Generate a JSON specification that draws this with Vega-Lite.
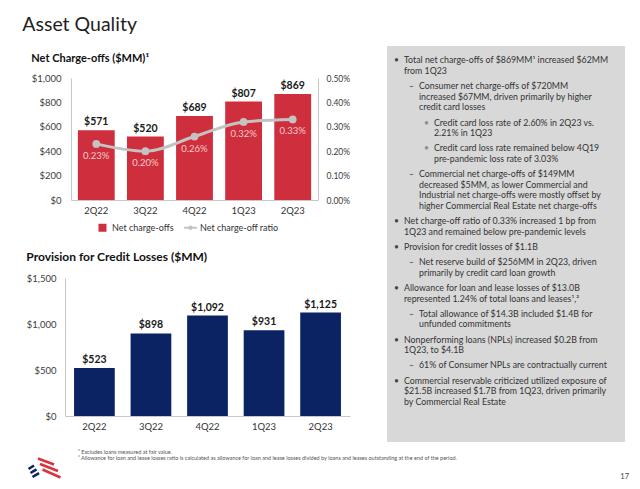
{
  "$schema": "https://vega.github.io/schema/vega-lite/v6.json",
  "background": "white",
  "padding": {"left": 22, "top": 15, "right": 5, "bottom": 4},
  "config": {
    "font": "Lato",
    "view": {"stroke": null},
    "axis": {"labelColor": "#3c3c3c", "domainColor": "#c8c8c8", "grid": false, "ticks": false, "tickSize": 0, "labelOverlap": false}
  },
  "title": {"text": "Asset Quality", "anchor": "start", "fontSize": 19.5, "fontWeight": "normal", "color": "#1f1f1f", "offset": 10, "dx": -4},
  "spacing": 0,
  "resolve": {"scale": {"color": "independent"}, "legend": {"color": "independent"}},
  "vconcat": [
    {
      "spacing": 37,
      "resolve": {"scale": {"color": "independent"}, "legend": {"color": "independent"}},
      "hconcat": [
        {
          "spacing": 18,
          "resolve": {"scale": {"color": "independent"}, "legend": {"color": "independent"}},
          "vconcat": [
            {
              "width": 253,
              "height": 122,
              "title": {"text": "Net Charge-offs ($MM)¹", "anchor": "start", "frame": "bounds", "fontSize": 11, "fontWeight": "bold", "color": "#111111", "offset": 9},
              "data": {"values": [
                {"quarter": "2Q22", "nco": 571, "ratio": 0.0023},
                {"quarter": "3Q22", "nco": 520, "ratio": 0.0020},
                {"quarter": "4Q22", "nco": 689, "ratio": 0.0026},
                {"quarter": "1Q23", "nco": 807, "ratio": 0.0032},
                {"quarter": "2Q23", "nco": 869, "ratio": 0.0033}
              ]},
              "encoding": {
                "x": {"field": "quarter", "type": "nominal", "sort": null,
                  "scale": {"range": [6, 253], "paddingInner": 0.25, "paddingOuter": 0.14},
                  "axis": {"title": null, "labelAngle": 0, "labelFontSize": 9.5, "labelPadding": 5, "labelColor": "#333333"}}
              },
              "layer": [
                {
                  "encoding": {
                    "y": {"field": "nco", "type": "quantitative", "scale": {"domain": [0, 1000], "nice": false},
                      "axis": {"title": null, "format": "$,d", "values": [0, 200, 400, 600, 800, 1000], "tickCount": 6, "labelOverlap": false, "labelSeparation": 0, "labelPadding": 10, "offset": -6, "labelFontSize": 9.5}}
                  },
                  "layer": [
                    {
                      "mark": {"type": "bar", "color": "#cf2f3d"},
                      "encoding": {
                        "color": {"datum": "Net charge-offs", "type": "nominal",
                          "scale": {"domain": ["Net charge-offs", "Net charge-off ratio"], "range": ["#cf2f3d", "#c3c3c3"]},
                          "legend": {"orient": "none", "legendX": 33, "legendY": 145, "direction": "horizontal", "title": null, "labelFontSize": 9, "labelColor": "#333333", "symbolSize": 64, "labelOffset": 5, "columnPadding": 10,
                            "encode": {"symbols": {"update": {
                              "shape": {"signal": "datum.value === 'Net charge-offs' ? 'square' : 'M-1.6,-0.22H-0.5V0.22H-1.6Z M0.5,-0.22H1.6V0.22H0.5Z M0.55,0A0.55,0.55 0 1,1 -0.55,0A0.55,0.55 0 1,1 0.55,0Z'"},
                              "fill": {"signal": "datum.value === 'Net charge-offs' ? '#cf2f3d' : '#c3c3c3'"},
                              "strokeWidth": {"value": 0},
                              "opacity": {"value": 1},
                              "fillOpacity": {"value": 1}
                            }}}}
                        }
                      }
                    },
                    {
                      "mark": {"type": "text", "baseline": "middle", "dy": -8, "fontSize": 10.5, "fontWeight": "bold", "color": "#1a1a1a"},
                      "encoding": {
                        "text": {"field": "nco", "type": "quantitative", "format": "$,d"}
                      }
                    }
                  ]
                },
                {
                  "encoding": {
                    "y": {"field": "ratio", "type": "quantitative", "scale": {"domain": [0, 0.005], "nice": false},
                      "axis": {"title": null, "orient": "right", "format": ".2%", "values": [0, 0.001, 0.002, 0.003, 0.004, 0.005], "tickCount": 6, "labelOverlap": false, "labelSeparation": 0, "labelPadding": 8, "labelFontSize": 8.5}}
                  },
                  "layer": [
                    {
                      "mark": {"type": "line", "interpolate": "monotone", "strokeWidth": 3, "point": {"filled": true, "size": 60}},
                      "encoding": {
                        "color": {"datum": "Net charge-off ratio", "type": "nominal"}
                      }
                    },
                    {
                      "mark": {"type": "text", "baseline": "middle", "dy": 12, "fontSize": 9.5, "color": "#f5c9cd"},
                      "encoding": {
                        "text": {"field": "ratio", "type": "quantitative", "format": ".2%"}
                      }
                    }
                  ]
                }
              ],
              "resolve": {"scale": {"y": "independent"}}
            },
            {
              "width": 285,
              "height": 138,
              "title": {"text": "Provision for Credit Losses ($MM)", "anchor": "start", "frame": "bounds", "fontSize": 12, "fontWeight": "bold", "color": "#111111", "offset": 9},
              "data": {"values": [
                {"quarter": "2Q22", "pcl": 523},
                {"quarter": "3Q22", "pcl": 898},
                {"quarter": "4Q22", "pcl": 1092},
                {"quarter": "1Q23", "pcl": 931},
                {"quarter": "2Q23", "pcl": 1125}
              ]},
              "encoding": {
                "x": {"field": "quarter", "type": "nominal", "sort": null,
                  "scale": {"paddingInner": 0.28, "paddingOuter": 0.16},
                  "axis": {"title": null, "labelAngle": 0, "labelFontSize": 9.5, "labelPadding": 5, "labelColor": "#333333"}},
                "y": {"field": "pcl", "type": "quantitative", "scale": {"domain": [0, 1500], "nice": false},
                  "axis": {"title": null, "format": "$,d", "values": [0, 500, 1000, 1500], "labelOverlap": false, "labelPadding": 9, "labelFontSize": 9.5}}
              },
              "layer": [
                {"mark": {"type": "bar", "color": "#0b2263"}},
                {
                  "mark": {"type": "text", "baseline": "middle", "dy": -8, "fontSize": 10.5, "fontWeight": "bold", "color": "#1a1a1a"},
                  "encoding": {"text": {"field": "pcl", "type": "quantitative", "format": "$,d"}}
                }
              ]
            }
          ]
        },
        {
          "width": 238,
          "height": 364,
          "encoding": {
            "x": {"field": "level", "type": "quantitative", "scale": {"domain": [-0.4667, 15.4], "nice": false, "zero": false}, "axis": null},
            "y": {"field": "pos", "type": "quantitative", "scale": {"domain": [1.6667, 35.94], "reverse": true, "nice": false, "zero": false}, "axis": null}
          },
          "layer": [
            {
              "data": {"values": [{"left": -0.4667, "right": 15.4, "top": -1.3465, "bottom": 35.94}]},
              "mark": {"type": "rect", "color": "#d8d8d8"},
              "encoding": {
                "x": {"field": "left", "type": "quantitative"},
                "x2": {"field": "right"},
                "y": {"field": "top", "type": "quantitative"},
                "y2": {"field": "bottom"}
              }
            },
            {
              "data": {"name": "bullets", "values": [
                {"pos": 0, "level": 0, "marker": "•", "text": "Total net charge-offs of $869MM¹ increased $62MM"},
                {"pos": 1, "level": 0, "marker": "", "text": "from 1Q23"},
                {"pos": 2.43, "level": 1, "marker": "–", "text": "Consumer net charge-offs of $720MM"},
                {"pos": 3.43, "level": 1, "marker": "", "text": "increased $67MM, driven primarily by higher"},
                {"pos": 4.43, "level": 1, "marker": "", "text": "credit card losses"},
                {"pos": 5.86, "level": 2, "marker": "•", "text": "Credit card loss rate of 2.60% in 2Q23 vs."},
                {"pos": 6.86, "level": 2, "marker": "", "text": "2.21% in 1Q23"},
                {"pos": 8.29, "level": 2, "marker": "•", "text": "Credit card loss rate remained below 4Q19"},
                {"pos": 9.29, "level": 2, "marker": "", "text": "pre-pandemic loss rate of 3.03%"},
                {"pos": 10.72, "level": 1, "marker": "–", "text": "Commercial net charge-offs of $149MM"},
                {"pos": 11.72, "level": 1, "marker": "", "text": "decreased $5MM, as lower Commercial and"},
                {"pos": 12.72, "level": 1, "marker": "", "text": "Industrial net charge-offs were mostly offset by"},
                {"pos": 13.72, "level": 1, "marker": "", "text": "higher Commercial Real Estate net charge-offs"},
                {"pos": 15.15, "level": 0, "marker": "•", "text": "Net charge-off ratio of 0.33% increased 1 bp from"},
                {"pos": 16.15, "level": 0, "marker": "", "text": "1Q23 and remained below pre-pandemic levels"},
                {"pos": 17.58, "level": 0, "marker": "•", "text": "Provision for credit losses of $1.1B"},
                {"pos": 19.01, "level": 1, "marker": "–", "text": "Net reserve build of $256MM in 2Q23, driven"},
                {"pos": 20.01, "level": 1, "marker": "", "text": "primarily by credit card loan growth"},
                {"pos": 21.44, "level": 0, "marker": "•", "text": "Allowance for loan and lease losses of $13.0B"},
                {"pos": 22.44, "level": 0, "marker": "", "text": "represented 1.24% of total loans and leases¹,²"},
                {"pos": 23.87, "level": 1, "marker": "–", "text": "Total allowance of $14.3B included $1.4B for"},
                {"pos": 24.87, "level": 1, "marker": "", "text": "unfunded commitments"},
                {"pos": 26.3, "level": 0, "marker": "•", "text": "Nonperforming loans (NPLs) increased $0.2B from"},
                {"pos": 27.3, "level": 0, "marker": "", "text": "1Q23, to $4.1B"},
                {"pos": 28.73, "level": 1, "marker": "–", "text": "61% of Consumer NPLs are contractually current"},
                {"pos": 30.16, "level": 0, "marker": "•", "text": "Commercial reservable criticized utilized exposure of"},
                {"pos": 31.16, "level": 0, "marker": "", "text": "$21.5B increased $1.7B from 1Q23, driven primarily"},
                {"pos": 32.16, "level": 0, "marker": "", "text": "by Commercial Real Estate"}
              ]},
              "mark": {"type": "text", "align": "left", "baseline": "middle", "dx": 10, "fontSize": 8.8, "color": "#333333"},
              "encoding": {"text": {"field": "text"}}
            },
            {
              "data": {"name": "bullets"},
              "mark": {"type": "text", "align": "left", "baseline": "middle", "fontSize": 8.5},
              "encoding": {
                "text": {"field": "marker"},
                "color": {"condition": {"test": "datum.level === 2", "value": "#8c8c8c"}, "value": "#444444"}
              }
            }
          ]
        }
      ]
    },
    {
      "width": 568,
      "height": 42,
      "view": {"fill": "transparent", "stroke": null},
      "layer": [
        {
          "data": {"values": [
            {"x": 75, "y": 450.7, "text": "¹ Excludes loans measured at fair value."},
            {"x": 75, "y": 456.7, "text": "² Allowance for loan and lease losses ratio is calculated as allowance for loan and lease losses divided by loans and leases outstanding at the end of the period."}
          ]},
          "mark": {"type": "text", "align": "left", "baseline": "middle", "fontSize": 5.5, "color": "#555555"},
          "encoding": {
            "x": {"field": "x", "type": "quantitative", "scale": {"domain": [62, 630], "nice": false, "zero": false}, "axis": null},
            "y": {"field": "y", "type": "quantitative", "scale": {"domain": [441, 483], "reverse": true, "nice": false, "zero": false}, "axis": null},
            "text": {"field": "text"}
          }
        },
        {
          "data": {"values": [{"x": 626, "y": 475.5, "text": "17"}]},
          "mark": {"type": "text", "align": "right", "baseline": "middle", "fontSize": 7.5, "color": "#444444"},
          "encoding": {
            "x": {"field": "x", "type": "quantitative"},
            "y": {"field": "y", "type": "quantitative"},
            "text": {"field": "text"}
          }
        },
        {
          "data": {"values": [
            {"x": 25.5, "y": 468, "x2": 31, "y2": 464.5, "c": "navy"},
            {"x": 27.5, "y": 472, "x2": 33.5, "y2": 468.3, "c": "navy"},
            {"x": 29.5, "y": 476, "x2": 36, "y2": 472.2, "c": "navy"},
            {"x": 35, "y": 457.5, "x2": 51, "y2": 463.5, "c": "red"},
            {"x": 37, "y": 463, "x2": 55, "y2": 470, "c": "red"},
            {"x": 39.5, "y": 468.5, "x2": 57.5, "y2": 476.5, "c": "red"}
          ]},
          "mark": {"type": "rule", "strokeWidth": 2.6, "strokeCap": "butt"},
          "encoding": {
            "x": {"field": "x", "type": "quantitative"},
            "y": {"field": "y", "type": "quantitative"},
            "x2": {"field": "x2"},
            "y2": {"field": "y2"},
            "color": {"field": "c", "type": "nominal", "scale": {"domain": ["navy", "red"], "range": ["#0b2263", "#d8343f"]}, "legend": null}
          }
        }
      ]
    }
  ]
}
